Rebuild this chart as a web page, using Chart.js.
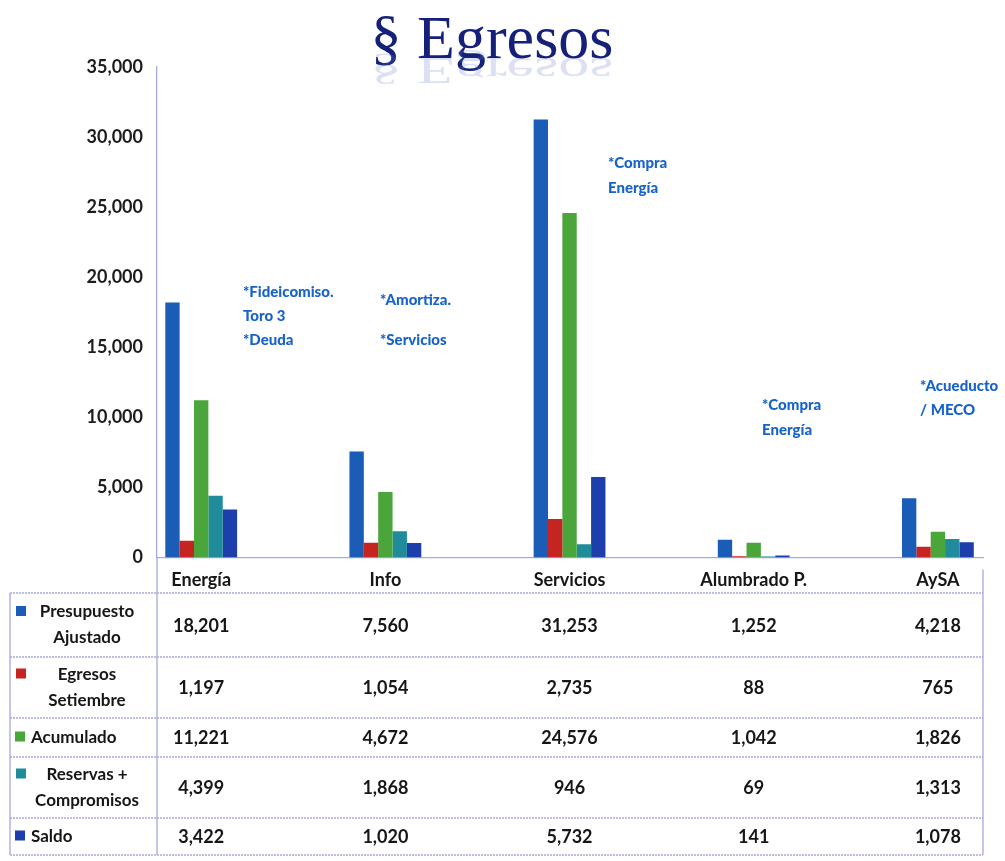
<!DOCTYPE html>
<html>
<head>
<meta charset="utf-8">
<script src="https://cdn.jsdelivr.net/npm/chart.js@4.4.1/dist/chart.umd.min.js"></script>
<style>
  html,body{margin:0;padding:0;background:#fff;}
  #wrap{width:1005px;height:861px;position:relative;}
</style>
</head>
<body>
<div id="wrap"><canvas id="egresos" width="1005" height="861"></canvas></div>
<script>
// data (table values)
const categories = ['Energía', 'Info', 'Servicios', 'Alumbrado P.', 'AySA'];
const presupuesto = [18201, 7560, 31253, 1252, 4218];
const egresosSet = [1197, 1054, 2735, 88, 765];
const acumulado = [11221, 4672, 24576, 1042, 1826];
const reservas = [4399, 1868, 946, 69, 1313];
const saldo = [3422, 1020, 5732, 141, 1078];
const seriesNames = [['Presupuesto', 'Ajustado'], ['Egresos', 'Setiembre'], ['Acumulado'], ['Reservas +', 'Compromisos'], ['Saldo']];
const seriesColors = ['#1b5cb6', '#c52420', '#4aa63b', '#1f8b9b', '#1d3fab'];
const yTicks = [0, 5000, 10000, 15000, 20000, 25000, 30000, 35000];
const notes = [
  ['*Fideicomiso.', 'Toro 3', '*Deuda'],
  ['*Amortiza.', '', '*Servicios'],
  ['*Compra', 'Energía'],
  ['*Compra', 'Energía'],
  ['*Acueducto', '/ MECO']
];

const allSeries = [presupuesto, egresosSet, acumulado, reservas, saldo];
const FONT = "Lato, 'Open Sans', sans-serif";
function fmt(v){ return v.toLocaleString('en-US'); }

// title with a faint reflection
const titlePlugin = {
  id: 'titleRefl',
  afterDraw(chart){
    const ctx = chart.ctx;
    const cx = 492, base = 58;
    ctx.save();
    ctx.font = "62px 'Liberation Serif', 'DejaVu Serif', serif";
    ctx.textAlign = 'center';
    ctx.textBaseline = 'alphabetic';
    ctx.fillStyle = '#15207a';
    ctx.fillText('§ Egresos', cx, base);
    // reflection
    ctx.translate(0, base);
    ctx.scale(1, -0.6);
    ctx.translate(0, -base);
    ctx.globalAlpha = 0.22;
    ctx.fillStyle = '#5a78c8';
    ctx.fillText('§ Egresos', cx, base);
    ctx.restore();
  }
};

// blue side notes
const notePos = [[243, 292, 24], [380, 300, 20], [608, 163, 25], [762, 405, 25], [920, 386, 24]];
const notesPlugin = {
  id: 'notes',
  afterDraw(chart){
    const ctx = chart.ctx;
    ctx.save();
    ctx.font = "900 15px " + FONT;
    ctx.fillStyle = '#1763c9';
    ctx.textAlign = 'left';
    ctx.textBaseline = 'middle';
    notes.forEach((lines, i) => {
      const [x, y, lh] = notePos[i];
      lines.forEach((t, k) => ctx.fillText(t, x, y + k*lh));
    });
    ctx.restore();
  }
};

// data table under the axis (Excel style)
const tablePlugin = {
  id: 'dataTable',
  afterDraw(chart){
    const { ctx, chartArea: a, scales: { x } } = chart;
    const rows = [593, 657, 718, 757, 818, 855];
    const L = 10, R = a.right;
    ctx.save();
    ctx.strokeStyle = '#a5aadf';
    ctx.lineWidth = 1.3;
    ctx.setLineDash([2, 1]);
    rows.forEach(y => { ctx.beginPath(); ctx.moveTo(L, y); ctx.lineTo(R, y); ctx.stroke(); });
    ctx.setLineDash([]);
    ctx.beginPath();
    ctx.moveTo(L, rows[0]); ctx.lineTo(L, rows[5]);
    ctx.moveTo(a.left, a.bottom); ctx.lineTo(a.left, rows[5]);
    ctx.moveTo(R, a.bottom + 12); ctx.lineTo(R, rows[5]);
    ctx.stroke();

    ctx.textBaseline = 'middle';
    allSeries.forEach((vals, r) => {
      const yc = (rows[r] + rows[r+1]) / 2;
      const lines = seriesNames[r];
      ctx.font = "bold 17px " + FONT;
      ctx.fillStyle = '#161616';
      if(lines.length > 1){
        ctx.textAlign = 'center';
        ctx.fillText(lines[0], 87, yc - 13);
        ctx.fillText(lines[1], 87, yc + 13);
        ctx.fillStyle = seriesColors[r];
        ctx.fillRect(16, yc - 19, 10, 10);
      } else {
        ctx.textAlign = 'left';
        ctx.fillText(lines[0], 31, yc);
        ctx.fillStyle = seriesColors[r];
        ctx.fillRect(15, yc - 6, 10, 10);
      }
      ctx.font = "bold 18px " + FONT;
      ctx.fillStyle = '#161616';
      ctx.textAlign = 'center';
      vals.forEach((v, i) => ctx.fillText(fmt(v), x.getPixelForValue(i), yc + 1));
    });
    ctx.restore();
  }
};

const datasets = allSeries.map((vals, r) => ({
  label: seriesNames[r].join(' '),
  data: vals.map((v, i) => ({ x: i, y: v })),
  backgroundColor: seriesColors[r],
  borderWidth: 0,
  barPercentage: 1.0,
  categoryPercentage: 0.39
}));

new Chart(document.getElementById('egresos').getContext('2d'), {
  type: 'bar',
  data: { datasets },
  plugins: [titlePlugin, notesPlugin, tablePlugin],
  options: {
    responsive: false,
    animation: false,
    layout: { padding: { top: 67, right: 22, bottom: 258, left: 0 } },
    plugins: { legend: { display: false }, tooltip: { enabled: false } },
    scales: {
      x: {
        type: 'linear',
        offset: false,
        min: -0.24,
        max: 4.245,
        afterBuildTicks: s => { s.ticks = categories.map((c, i) => ({ value: i })); },
        grid: { display: false, drawTicks: false, offset: false },
        border: { color: '#a5aadf', width: 1.3, dash: [2, 1] },
        ticks: {
          padding: 12,
          autoSkip: false,
          maxRotation: 0,
          color: '#161616',
          font: { family: FONT, size: 18, weight: 'bold' },
          callback: v => categories[v] ?? ''
        }
      },
      y: {
        min: 0,
        max: 35000,
        afterBuildTicks: s => { s.ticks = yTicks.map(v => ({ value: v })); },
        afterFit: s => { s.width = 157; },
        grid: { display: false, drawTicks: false },
        border: { color: '#a5aadf', width: 1.3 },
        ticks: {
          padding: 14,
          color: '#1c1c1c',
          font: { family: FONT, size: 18, weight: 'bold' },
          callback: v => fmt(v)
        }
      }
    }
  }
});
</script>
</body>
</html>
